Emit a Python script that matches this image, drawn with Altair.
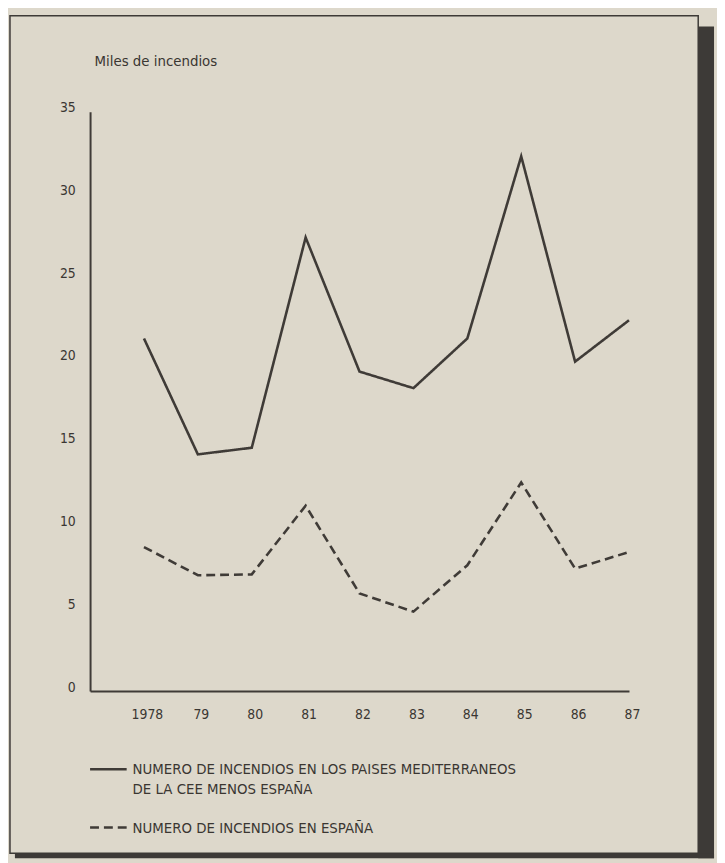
import altair as alt
import pandas as pd

# ---- data ----
years = [1978, 1979, 1980, 1981, 1982, 1983, 1984, 1985, 1986, 1987]
year_labels = ["1978", "79", "80", "81", "82", "83", "84", "85", "86", "87"]
mediterraneos = [21.3, 14.3, 14.7, 27.4, 19.3, 18.3, 21.3, 32.3, 19.9, 22.4]
espana = [8.7, 7.0, 7.05, 11.2, 5.9, 4.8, 7.6, 12.6, 7.4, 8.4]
series_names = ["Paises mediterraneos CEE sin España", "España"]
legend_lines = [
    ["NUMERO DE INCENDIOS EN LOS PAISES MEDITERRANEOS", "DE LA CEE MENOS ESPAÑA"],
    ["NUMERO DE INCENDIOS EN ESPAÑA"],
]
y_ticks = [0, 5, 10, 15, 20, 25, 30, 35]
y_title = "Miles de incendios"

# ---- styling ----
INK = "#3f3b37"
TEXT = "#3a3632"
BG = "#ddd8cb"
SHADOW = "#3d3a37"
FONT = "Liberation Sans Narrow, DejaVu Sans Condensed, Arial Narrow, sans-serif"

rows = []
for y, a, b in zip(years, mediterraneos, espana):
    rows.append({"year": y, "value": a, "serie": series_names[0]})
    rows.append({"year": y, "value": b, "serie": series_names[1]})
df = pd.DataFrame(rows)

x_expr = " : ".join(
    f"datum.value == {y} ? '{lab}'" for y, lab in zip(years, year_labels)
) + " : ''"

lines = alt.Chart(df).mark_line(strokeWidth=2.6, color=INK, strokeJoin="miter").encode(
    x=alt.X(
        "year:Q",
        scale=alt.Scale(domain=[1977, 1987], nice=False, zero=False),
        axis=alt.Axis(
            values=years, labelExpr=x_expr, title=None, ticks=False, grid=False,
            domainColor=INK, domainWidth=2, labelPadding=17, labelFontSize=14,
            labelFont=FONT, labelColor=TEXT, labelFlush=False, labelOverlap=False,
            labelBaseline="top", labelOffset=3,
        ),
    ),
    y=alt.Y(
        "value:Q",
        scale=alt.Scale(domain=[0, 35], nice=False),
        axis=alt.Axis(
            values=y_ticks, title=y_title, titleAngle=0, titleAlign="left",
            titleBaseline="middle", titleX=4, titleY=-52, titleFont=FONT,
            titleFontSize=15, titleFontWeight="normal", titleColor=TEXT,
            ticks=False, grid=False, domainColor=INK, domainWidth=2,
            labelPadding=15, labelFontSize=14, labelFont=FONT, labelColor=TEXT,
            labelOffset=-4, labelFlush=False, labelOverlap=False,
        ),
    ),
    strokeDash=alt.StrokeDash(
        "serie:N",
        scale=alt.Scale(domain=series_names, range=[[1, 0], [9, 5]]),
        legend=None,
    ),
)

one = pd.DataFrame({"k": [0]})

frame = alt.Chart(one).mark_rect(fillOpacity=0, stroke=SHADOW, strokeWidth=1.5).encode(
    x=alt.value(-81), x2=alt.value(615), y=alt.value(-97), y2=alt.value(750)
)
shadow_r = alt.Chart(one).mark_rect(color=SHADOW).encode(
    x=alt.value(615), x2=alt.value(631), y=alt.value(-86), y2=alt.value(755)
)
shadow_b = alt.Chart(one).mark_rect(color=SHADOW).encode(
    x=alt.value(-76), x2=alt.value(631), y=alt.value(750), y2=alt.value(755)
)

# manual legend
leg_solid = alt.Chart(one).mark_rule(color=INK, strokeWidth=2.6).encode(
    x=alt.value(0), x2=alt.value(37), y=alt.value(665)
)
leg_dash = alt.Chart(one).mark_rule(color=INK, strokeWidth=2.6, strokeDash=[9, 5]).encode(
    x=alt.value(0), x2=alt.value(37), y=alt.value(724)
)
leg_t1 = alt.Chart(one).mark_text(
    align="left", baseline="middle", font=FONT, fontSize=15, color=TEXT, lineHeight=20
).encode(x=alt.value(43), y=alt.value(665), text=alt.value(legend_lines[0]))
leg_t2 = alt.Chart(one).mark_text(
    align="left", baseline="middle", font=FONT, fontSize=15, color=TEXT
).encode(x=alt.value(43), y=alt.value(724), text=alt.value(legend_lines[1][0]))

chart = alt.layer(
    frame, shadow_r, shadow_b, lines, leg_solid, leg_dash, leg_t1, leg_t2
).properties(
    width=545,
    height=586,
    padding={"left": 83, "top": 100, "right": 89, "bottom": 169},
    autosize=alt.AutoSizeParams(type="none"),
    background=BG,
).configure_view(stroke=None)

chart.save("out.html", embed_options={"renderer": "svg", "actions": False})
